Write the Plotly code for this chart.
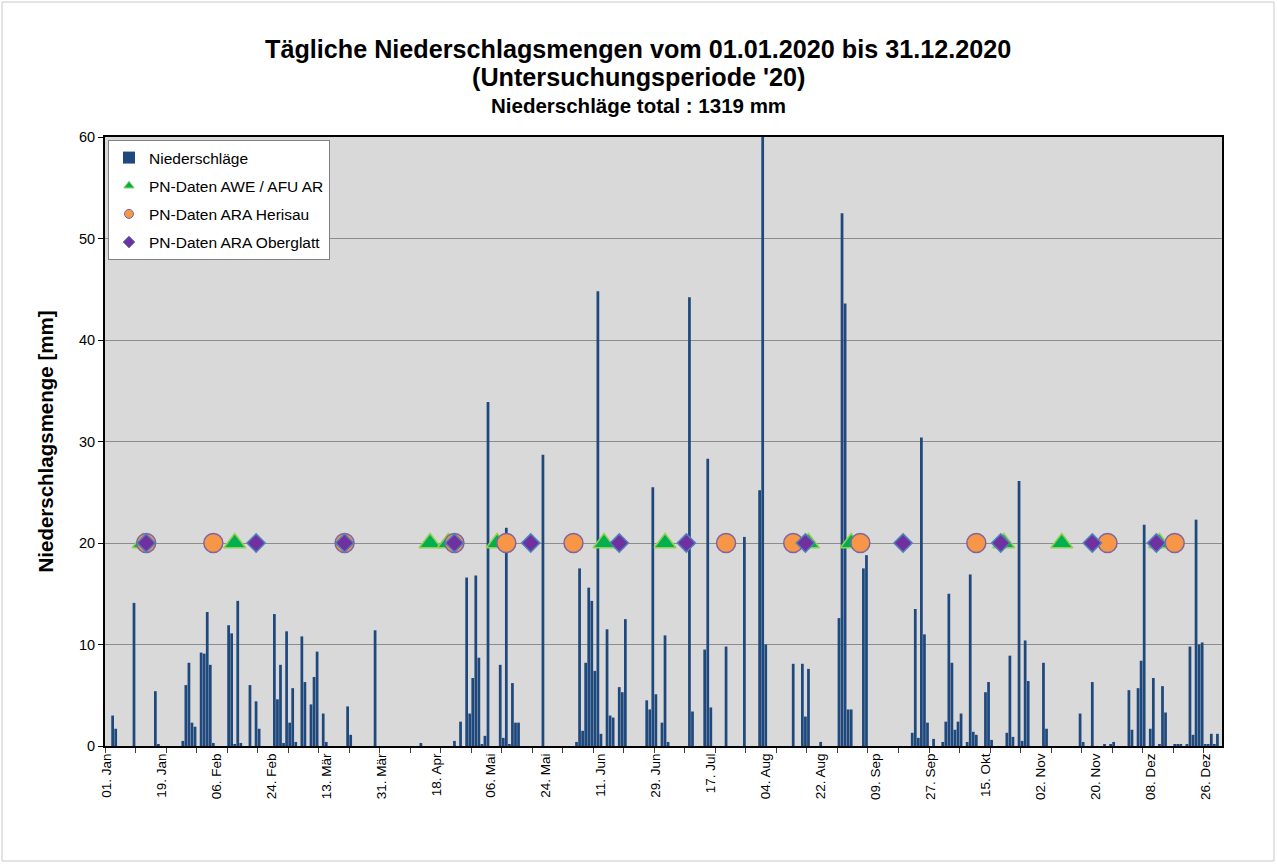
import plotly.graph_objects as go

# ---------------- data (day index: 0 = 01.01.2020) ----------------
rain_day = [2, 3, 9, 16, 17, 25, 26, 27, 28, 29, 31, 32, 33, 34, 35, 40, 41, 42, 43, 44,
            47, 49, 50, 55, 56, 57, 58, 59, 60, 61, 62, 64, 65, 67, 68, 69, 71, 72, 79, 80,
            88, 103, 114, 116, 118, 119, 120, 121, 122, 123, 124, 125, 129, 130, 131, 132,
            133, 134, 135, 143, 154, 155, 156, 157, 158, 159, 160, 161, 162, 164, 165, 166,
            168, 169, 170, 177, 178, 179, 180, 182, 183, 184, 191, 192, 196, 197, 198, 203,
            209, 214, 215, 216, 225, 228, 229, 230, 234, 240, 241, 242, 243, 244, 248, 249,
            264, 265, 266, 267, 268, 269, 271, 274, 275, 276, 277, 278, 279, 280, 282, 283,
            284, 285, 288, 289, 290, 295, 296, 297, 299, 300, 301, 302, 307, 308, 319, 320,
            323, 327, 329, 330, 335, 336, 338, 339, 340, 342, 343, 345, 346, 347, 350, 351,
            352, 354, 355, 356, 357, 358, 359, 360, 361, 362, 363, 364]
rain_mm = [3.0, 1.7, 14.1, 5.4, 0.2, 0.5, 6.0, 8.2, 2.3, 1.9, 9.2, 9.1, 13.2, 8.0, 0.3, 11.9, 11.1, 0.2, 14.3, 0.3,
           6.0, 4.4, 1.7, 13.0, 4.6, 8.0, 0.3, 11.3, 2.3, 5.7, 0.4, 10.8, 6.3, 4.1, 6.8, 9.3, 3.2, 0.4, 3.9, 1.1,
           11.4, 0.3, 0.5, 2.4, 16.6, 3.2, 6.7, 16.8, 8.7, 0.2, 1.0, 33.9, 8.0, 0.8, 21.5, 0.2,
           6.2, 2.3, 2.3, 28.7, 0.4, 17.5, 1.5, 8.2, 15.6, 14.3, 7.4, 44.8, 1.2, 11.5, 3.0, 2.8,
           5.8, 5.3, 12.5, 4.5, 3.6, 25.5, 5.1, 2.3, 10.9, 0.4, 44.2, 3.4, 9.5, 28.3, 3.8, 9.8,
           20.6, 25.2, 61.0, 10.0, 8.1, 8.1, 2.9, 7.6, 0.4, 12.6, 52.5, 43.6, 3.6, 3.6, 17.5, 18.8,
           1.3, 13.5, 0.8, 30.4, 11.0, 2.3, 0.7, 0.4, 2.4, 15.0, 8.2, 1.6, 2.4, 3.2, 0.4, 16.9,
           1.4, 1.1, 5.3, 6.3, 0.6, 1.3, 8.9, 0.9, 26.1, 0.5, 10.4, 6.4, 8.2, 1.7, 3.2, 0.4,
           6.3, 0.2, 0.2, 0.4, 5.5, 1.6, 5.7, 8.4, 21.8, 1.7, 6.7, 0.2, 5.9, 3.3, 0.1, 0.1,
           0.1, 0.2, 9.8, 1.1, 22.3, 10.0, 10.2, 0.2, 0.2, 1.2, 0.1, 1.2]

awe_day = [12, 42, 106, 112, 128, 163, 183, 230, 244, 294, 313, 345]
awe_val = [20, 20, 20, 20, 20, 20, 20, 20, 20, 20, 20, 20]

herisau_day = [13, 35, 78, 114, 131, 153, 203, 225, 247, 285, 328, 350]
herisau_val = [20, 20, 20, 20, 20, 20, 20, 20, 20, 20, 20, 20]

oberglatt_day = [13, 49, 78, 114, 139, 168, 190, 229, 261, 293, 323, 344]
oberglatt_val = [20, 20, 20, 20, 20, 20, 20, 20, 20, 20, 20, 20]

tick_day = [0, 18, 36, 54, 72, 90, 108, 126, 144, 162, 180, 198, 216, 234, 252, 270,
            288, 306, 324, 342, 360]
tick_text = ["01. Jan", "19. Jan", "06. Feb", "24. Feb", "13. Mär", "31. Mär", "18. Apr",
             "06. Mai", "24. Mai", "11. Jun", "29. Jun", "17. Jul", "04. Aug", "22. Aug",
             "09. Sep", "27. Sep", "15. Okt", "02. Nov", "20. Nov", "08. Dez", "26. Dez"]

# ---------------- styles ----------------
FONT = "Arial, Liberation Sans, sans-serif"
BAR_C = "#1F497D"
TRI_FILL, TRI_LINE = "#00B050", "#92D050"
CIR_FILL, CIR_LINE = "#F79646", "#8064A2"
DIA_FILL, DIA_LINE = "#7030A0", "#4F81BD"

fig = go.Figure()

fig.add_trace(go.Bar(x=rain_day, y=rain_mm, name="Niederschläge", width=0.9,
                     marker=dict(color=BAR_C, line=dict(width=0)),
                     legendgroup="g1", showlegend=True))

fig.add_trace(go.Scatter(x=awe_day, y=awe_val, mode="markers", showlegend=False,
                         marker=dict(symbol="triangle-up", size=19, color=TRI_FILL,
                                     line=dict(color=TRI_LINE, width=1.5))))
fig.add_trace(go.Scatter(x=herisau_day, y=herisau_val, mode="markers", showlegend=False,
                         marker=dict(symbol="circle", size=19, color=CIR_FILL,
                                     line=dict(color=CIR_LINE, width=1.5))))
fig.add_trace(go.Scatter(x=oberglatt_day, y=oberglatt_val, mode="markers", showlegend=False,
                         marker=dict(symbol="diamond", size=14, color=DIA_FILL,
                                     line=dict(color=DIA_LINE, width=1.5))))

# legend entries (small symbols as in the original legend)
fig.add_trace(go.Scatter(x=[None], y=[None], mode="markers", name="PN-Daten AWE / AFU AR",
                         legendgroup="g2",
                         marker=dict(symbol="triangle-up", size=9, color=TRI_FILL,
                                     line=dict(color=TRI_LINE, width=1))))
fig.add_trace(go.Scatter(x=[None], y=[None], mode="markers", name="PN-Daten ARA Herisau",
                         legendgroup="g3",
                         marker=dict(symbol="circle", size=9, color=CIR_FILL,
                                     line=dict(color=CIR_LINE, width=1))))
fig.add_trace(go.Scatter(x=[None], y=[None], mode="markers", name="PN-Daten ARA Oberglatt",
                         legendgroup="g4",
                         marker=dict(symbol="diamond", size=9, color=DIA_FILL,
                                     line=dict(color=DIA_LINE, width=1))))

L, R, T, B = 105, 55, 137, 118
W, H = 1277, 864
pw, ph = W - L - R, H - T - B


def px(xp):
    return (xp - L) / pw


def py(yp):
    return (H - B - yp) / ph


fig.update_layout(
    width=W, height=H,
    margin=dict(l=L, r=R, t=T, b=B, autoexpand=False),
    paper_bgcolor="white",
    plot_bgcolor="#D9D9D9",
    font=dict(family=FONT, color="black", size=14),
    bargap=0.1,
    showlegend=True,
    legend=dict(x=px(108), y=py(140), xanchor="left", yanchor="top",
                bgcolor="white", bordercolor="#808080", borderwidth=1,
                font=dict(size=15.5, family=FONT), traceorder="grouped",
                tracegroupgap=5, itemwidth=30),
    xaxis=dict(range=[-0.5, 365.5], tickmode="array", tickvals=tick_day, ticktext=tick_text,
               tickangle=-90, ticks="", showgrid=False, zeroline=False,
               showline=True, linecolor="black", linewidth=2, mirror=True,
               tickfont=dict(size=13.5, family=FONT),
               minor=dict(tick0=-0.5, dtick=10, ticks="outside", ticklen=5,
                          tickcolor="#404040", tickwidth=1, showgrid=False)),
    yaxis=dict(range=[0, 60], tickmode="linear", tick0=0, dtick=10,
               ticks="outside", ticklen=5, tickcolor="black",
               showgrid=True, gridcolor="#8C8C8C", gridwidth=1, zeroline=False,
               showline=True, linecolor="black", linewidth=2, mirror=True,
               tickfont=dict(size=14.5, family=FONT),
               title=dict(text="<b>Niederschlagsmenge [mm]</b>", standoff=20,
                          font=dict(size=20.5, family=FONT))),
    annotations=[
        dict(text="<b>Tägliche Niederschlagsmengen vom 01.01.2020 bis 31.12.2020</b>",
             xref="paper", yref="paper", x=px(638), y=py(49), xanchor="center",
             yanchor="middle", showarrow=False, font=dict(size=25.2, family=FONT)),
        dict(text="<b>(Untersuchungsperiode '20)</b>",
             xref="paper", yref="paper", x=px(638), y=py(77), xanchor="center",
             yanchor="middle", showarrow=False, font=dict(size=25.2, family=FONT)),
        dict(text="<b>Niederschläge total : 1319 mm</b>",
             xref="paper", yref="paper", x=px(638), y=py(106), xanchor="center",
             yanchor="middle", showarrow=False, font=dict(size=20.5, family=FONT)),
    ],
    shapes=[dict(type="rect", xref="paper", yref="paper", layer="below",
                 x0=px(2), x1=px(1274), y0=py(861), y1=py(2),
                 line=dict(color="#C8C8C8", width=1))],
)

fig.write_html("out.html", config={"displayModeBar": False},
               post_script="document.body.style.margin='0';document.body.style.padding='0';")
